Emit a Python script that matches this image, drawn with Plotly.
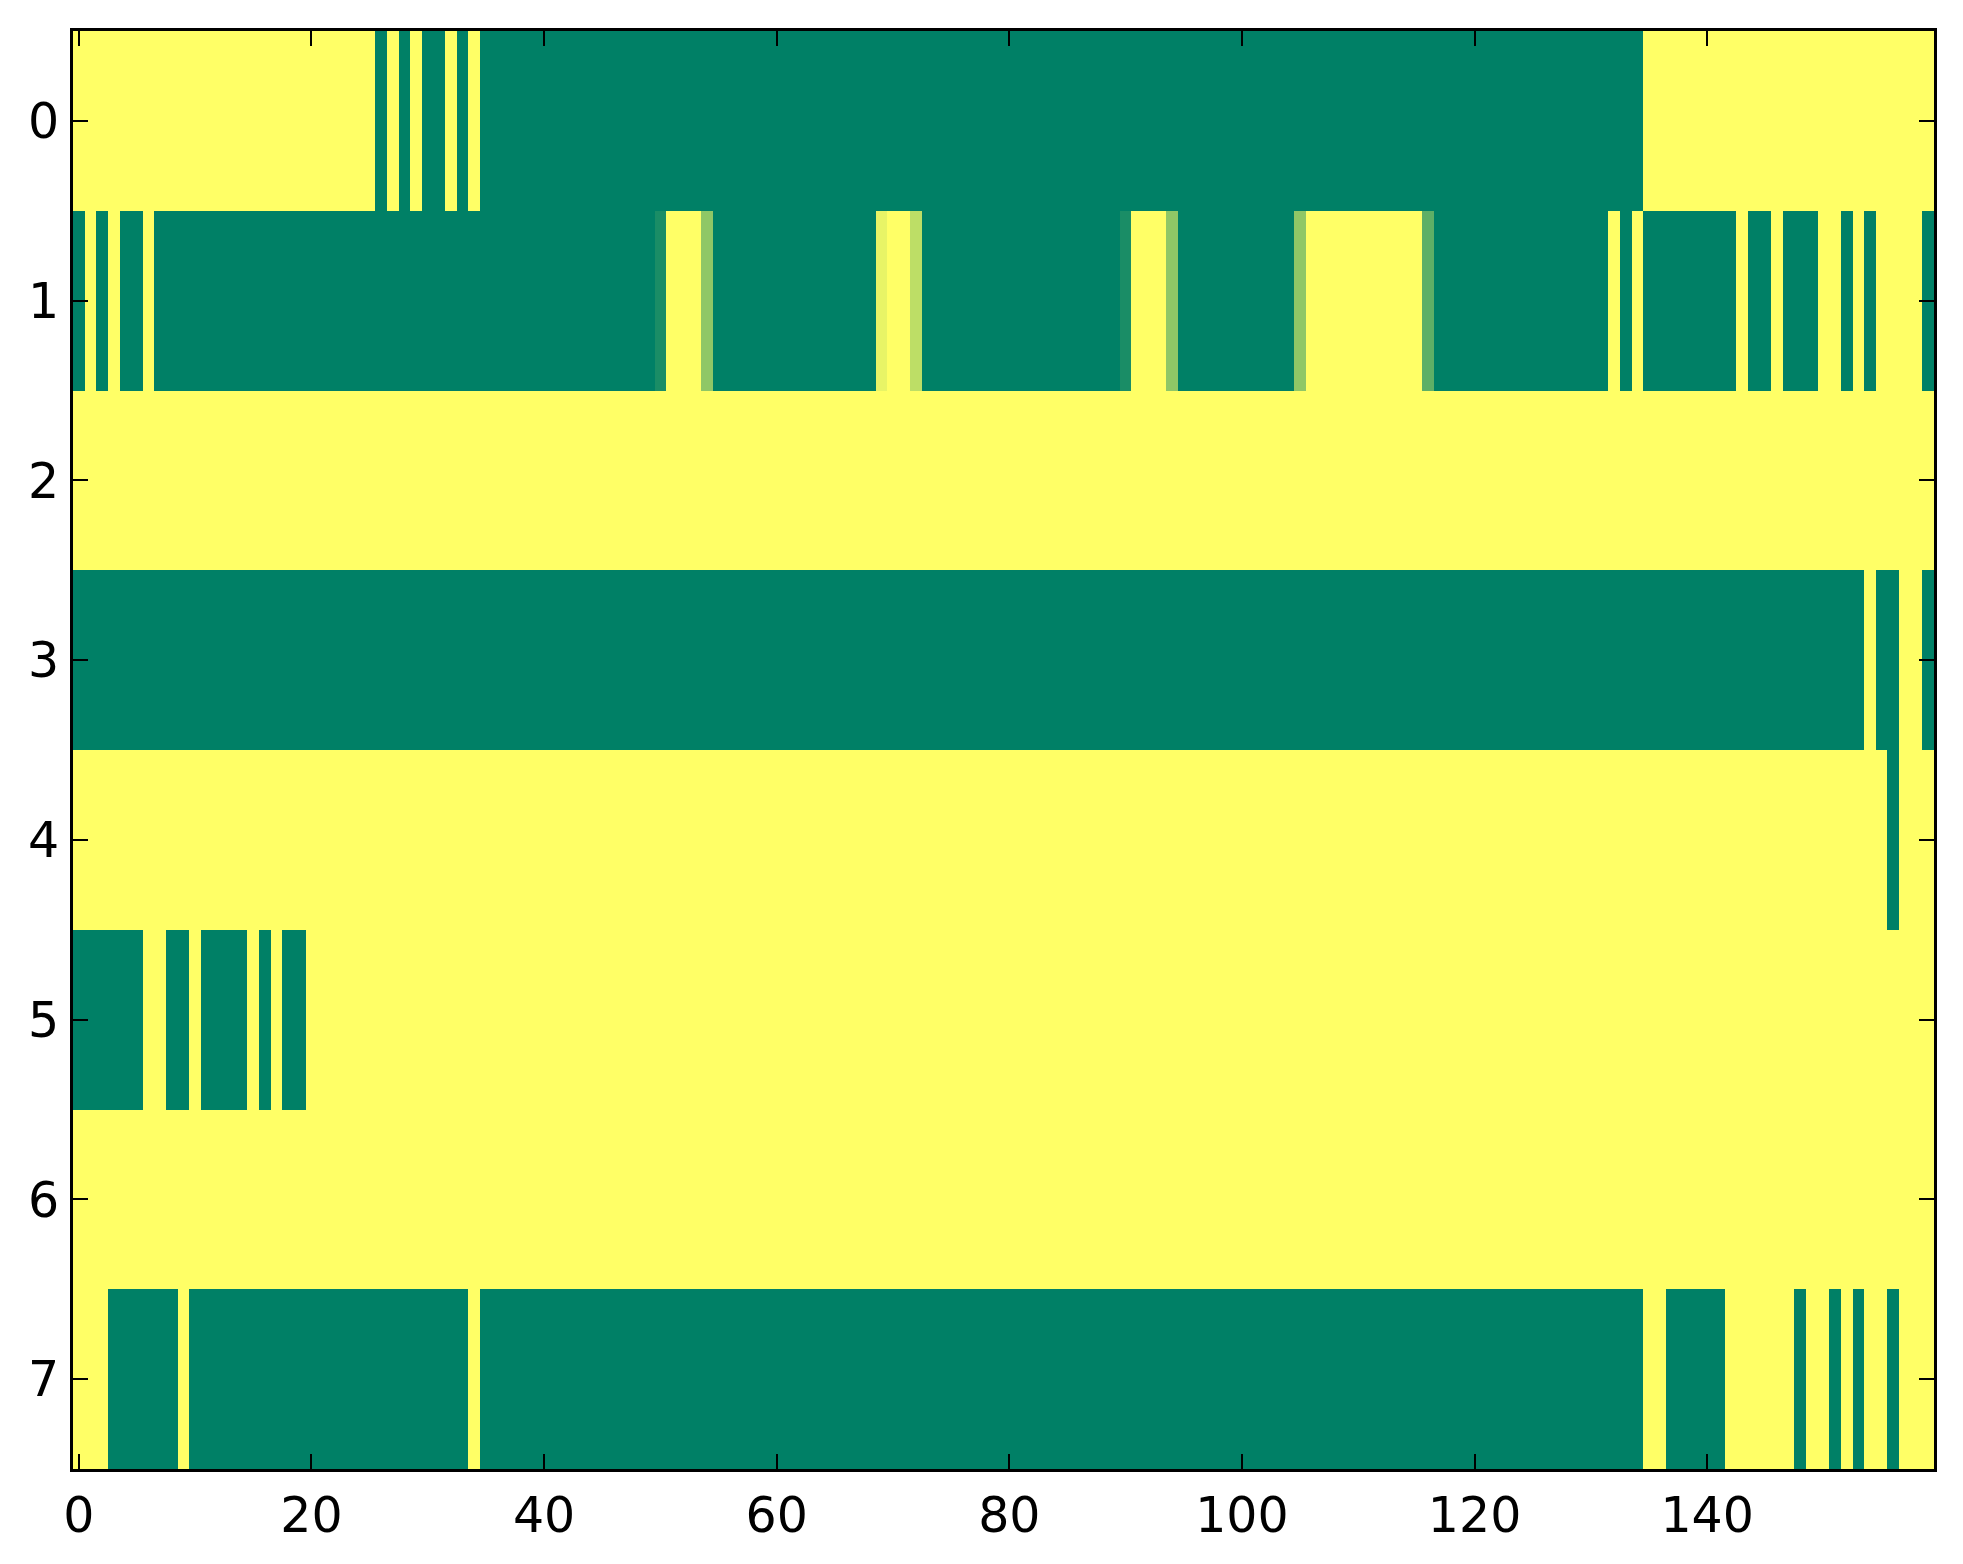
import plotly.graph_objects as go

# one list per row of the image, 160 columns each (0 = green, 1 = yellow)
row0 = [1, 1, 1, 1, 1, 1, 1, 1, 1, 1, 1, 1, 1, 1, 1, 1, 1, 1, 1, 1,
        1, 1, 1, 1, 1, 1, 0, 1, 0, 1, 0, 0, 1, 0, 1, 0, 0, 0, 0, 0,
        0, 0, 0, 0, 0, 0, 0, 0, 0, 0, 0, 0, 0, 0, 0, 0, 0, 0, 0, 0,
        0, 0, 0, 0, 0, 0, 0, 0, 0, 0, 0, 0, 0, 0, 0, 0, 0, 0, 0, 0,
        0, 0, 0, 0, 0, 0, 0, 0, 0, 0, 0, 0, 0, 0, 0, 0, 0, 0, 0, 0,
        0, 0, 0, 0, 0, 0, 0, 0, 0, 0, 0, 0, 0, 0, 0, 0, 0, 0, 0, 0,
        0, 0, 0, 0, 0, 0, 0, 0, 0, 0, 0, 0, 0, 0, 0, 1, 1, 1, 1, 1,
        1, 1, 1, 1, 1, 1, 1, 1, 1, 1, 1, 1, 1, 1, 1, 1, 1, 1, 1, 1]

row1 = [0, 1, 0, 1, 0, 0, 1, 0, 0, 0, 0, 0, 0, 0, 0, 0, 0, 0, 0, 0,
        0, 0, 0, 0, 0, 0, 0, 0, 0, 0, 0, 0, 0, 0, 0, 0, 0, 0, 0, 0,
        0, 0, 0, 0, 0, 0, 0, 0, 0, 0, 0.1, 1, 1, 1, 0.56, 0, 0, 0, 0, 0,
        0, 0, 0, 0, 0, 0, 0, 0, 0, 0.91, 1, 1, 0.74, 0, 0, 0, 0, 0, 0, 0,
        0, 0, 0, 0, 0, 0, 0, 0, 0, 0, 0.1, 1, 1, 1, 0.56, 0, 0, 0, 0, 0,
        0, 0, 0, 0, 0, 0.56, 1, 1, 1, 1, 1, 1, 1, 1, 1, 1, 0.37, 0, 0, 0,
        0, 0, 0, 0, 0, 0, 0, 0, 0, 0, 0, 0, 1, 0, 1, 0, 0, 0, 0, 0,
        0, 0, 0, 1, 0, 0, 1, 0, 0, 0, 1, 1, 0, 1, 0, 1, 1, 1, 1, 0]

row2 = [1, 1, 1, 1, 1, 1, 1, 1, 1, 1, 1, 1, 1, 1, 1, 1, 1, 1, 1, 1,
        1, 1, 1, 1, 1, 1, 1, 1, 1, 1, 1, 1, 1, 1, 1, 1, 1, 1, 1, 1,
        1, 1, 1, 1, 1, 1, 1, 1, 1, 1, 1, 1, 1, 1, 1, 1, 1, 1, 1, 1,
        1, 1, 1, 1, 1, 1, 1, 1, 1, 1, 1, 1, 1, 1, 1, 1, 1, 1, 1, 1,
        1, 1, 1, 1, 1, 1, 1, 1, 1, 1, 1, 1, 1, 1, 1, 1, 1, 1, 1, 1,
        1, 1, 1, 1, 1, 1, 1, 1, 1, 1, 1, 1, 1, 1, 1, 1, 1, 1, 1, 1,
        1, 1, 1, 1, 1, 1, 1, 1, 1, 1, 1, 1, 1, 1, 1, 1, 1, 1, 1, 1,
        1, 1, 1, 1, 1, 1, 1, 1, 1, 1, 1, 1, 1, 1, 1, 1, 1, 1, 1, 1]

row3 = [0, 0, 0, 0, 0, 0, 0, 0, 0, 0, 0, 0, 0, 0, 0, 0, 0, 0, 0, 0,
        0, 0, 0, 0, 0, 0, 0, 0, 0, 0, 0, 0, 0, 0, 0, 0, 0, 0, 0, 0,
        0, 0, 0, 0, 0, 0, 0, 0, 0, 0, 0, 0, 0, 0, 0, 0, 0, 0, 0, 0,
        0, 0, 0, 0, 0, 0, 0, 0, 0, 0, 0, 0, 0, 0, 0, 0, 0, 0, 0, 0,
        0, 0, 0, 0, 0, 0, 0, 0, 0, 0, 0, 0, 0, 0, 0, 0, 0, 0, 0, 0,
        0, 0, 0, 0, 0, 0, 0, 0, 0, 0, 0, 0, 0, 0, 0, 0, 0, 0, 0, 0,
        0, 0, 0, 0, 0, 0, 0, 0, 0, 0, 0, 0, 0, 0, 0, 0, 0, 0, 0, 0,
        0, 0, 0, 0, 0, 0, 0, 0, 0, 0, 0, 0, 0, 0, 1, 0, 0, 1, 1, 0]

row4 = [1, 1, 1, 1, 1, 1, 1, 1, 1, 1, 1, 1, 1, 1, 1, 1, 1, 1, 1, 1,
        1, 1, 1, 1, 1, 1, 1, 1, 1, 1, 1, 1, 1, 1, 1, 1, 1, 1, 1, 1,
        1, 1, 1, 1, 1, 1, 1, 1, 1, 1, 1, 1, 1, 1, 1, 1, 1, 1, 1, 1,
        1, 1, 1, 1, 1, 1, 1, 1, 1, 1, 1, 1, 1, 1, 1, 1, 1, 1, 1, 1,
        1, 1, 1, 1, 1, 1, 1, 1, 1, 1, 1, 1, 1, 1, 1, 1, 1, 1, 1, 1,
        1, 1, 1, 1, 1, 1, 1, 1, 1, 1, 1, 1, 1, 1, 1, 1, 1, 1, 1, 1,
        1, 1, 1, 1, 1, 1, 1, 1, 1, 1, 1, 1, 1, 1, 1, 1, 1, 1, 1, 1,
        1, 1, 1, 1, 1, 1, 1, 1, 1, 1, 1, 1, 1, 1, 1, 1, 0, 1, 1, 1]

row5 = [0, 0, 0, 0, 0, 0, 1, 1, 0, 0, 1, 0, 0, 0, 0, 1, 0, 1, 0, 0,
        1, 1, 1, 1, 1, 1, 1, 1, 1, 1, 1, 1, 1, 1, 1, 1, 1, 1, 1, 1,
        1, 1, 1, 1, 1, 1, 1, 1, 1, 1, 1, 1, 1, 1, 1, 1, 1, 1, 1, 1,
        1, 1, 1, 1, 1, 1, 1, 1, 1, 1, 1, 1, 1, 1, 1, 1, 1, 1, 1, 1,
        1, 1, 1, 1, 1, 1, 1, 1, 1, 1, 1, 1, 1, 1, 1, 1, 1, 1, 1, 1,
        1, 1, 1, 1, 1, 1, 1, 1, 1, 1, 1, 1, 1, 1, 1, 1, 1, 1, 1, 1,
        1, 1, 1, 1, 1, 1, 1, 1, 1, 1, 1, 1, 1, 1, 1, 1, 1, 1, 1, 1,
        1, 1, 1, 1, 1, 1, 1, 1, 1, 1, 1, 1, 1, 1, 1, 1, 1, 1, 1, 1]

row6 = [1, 1, 1, 1, 1, 1, 1, 1, 1, 1, 1, 1, 1, 1, 1, 1, 1, 1, 1, 1,
        1, 1, 1, 1, 1, 1, 1, 1, 1, 1, 1, 1, 1, 1, 1, 1, 1, 1, 1, 1,
        1, 1, 1, 1, 1, 1, 1, 1, 1, 1, 1, 1, 1, 1, 1, 1, 1, 1, 1, 1,
        1, 1, 1, 1, 1, 1, 1, 1, 1, 1, 1, 1, 1, 1, 1, 1, 1, 1, 1, 1,
        1, 1, 1, 1, 1, 1, 1, 1, 1, 1, 1, 1, 1, 1, 1, 1, 1, 1, 1, 1,
        1, 1, 1, 1, 1, 1, 1, 1, 1, 1, 1, 1, 1, 1, 1, 1, 1, 1, 1, 1,
        1, 1, 1, 1, 1, 1, 1, 1, 1, 1, 1, 1, 1, 1, 1, 1, 1, 1, 1, 1,
        1, 1, 1, 1, 1, 1, 1, 1, 1, 1, 1, 1, 1, 1, 1, 1, 1, 1, 1, 1]

row7 = [1, 1, 1, 0, 0, 0, 0, 0, 0, 1, 0, 0, 0, 0, 0, 0, 0, 0, 0, 0,
        0, 0, 0, 0, 0, 0, 0, 0, 0, 0, 0, 0, 0, 0, 1, 0, 0, 0, 0, 0,
        0, 0, 0, 0, 0, 0, 0, 0, 0, 0, 0, 0, 0, 0, 0, 0, 0, 0, 0, 0,
        0, 0, 0, 0, 0, 0, 0, 0, 0, 0, 0, 0, 0, 0, 0, 0, 0, 0, 0, 0,
        0, 0, 0, 0, 0, 0, 0, 0, 0, 0, 0, 0, 0, 0, 0, 0, 0, 0, 0, 0,
        0, 0, 0, 0, 0, 0, 0, 0, 0, 0, 0, 0, 0, 0, 0, 0, 0, 0, 0, 0,
        0, 0, 0, 0, 0, 0, 0, 0, 0, 0, 0, 0, 0, 0, 0, 1, 1, 0, 0, 0,
        0, 0, 1, 1, 1, 1, 1, 1, 0, 1, 1, 0, 1, 0, 1, 1, 0, 1, 1, 1]

x_ticks = [0, 20, 40, 60, 80, 100, 120, 140]
y_ticks = [0, 1, 2, 3, 4, 5, 6, 7]

z = [row0, row1, row2, row3, row4, row5, row6, row7]

# matplotlib "summer": green -> yellow
summer = [[0, "rgb(0,128,102)"], [1, "rgb(255,255,102)"]]

fig = go.Figure(go.Heatmap(
    z=z,
    colorscale=summer,
    zmin=0, zmax=1,
    showscale=False,
    hoverinfo="skip",
))

axis_style = dict(
    showline=True, linecolor="black", linewidth=3, mirror="ticks",
    ticks="inside", ticklen=15, tickwidth=2, tickcolor="black",
    showgrid=False, zeroline=False,
    tickfont=dict(family="DejaVu Sans", size=49, color="black"),
)

fig.update_xaxes(range=[-0.5, 159.5], tickvals=x_ticks, ticklabelstandoff=1, **axis_style)
fig.update_yaxes(range=[7.5, -0.5], tickvals=y_ticks, ticklabelstandoff=1, **axis_style)

fig.update_layout(
    width=1947, height=1548, autosize=False,
    margin=dict(l=65, r=21, t=23, b=84),
    paper_bgcolor="white", plot_bgcolor="white",
)

fig.write_html("out.html")
